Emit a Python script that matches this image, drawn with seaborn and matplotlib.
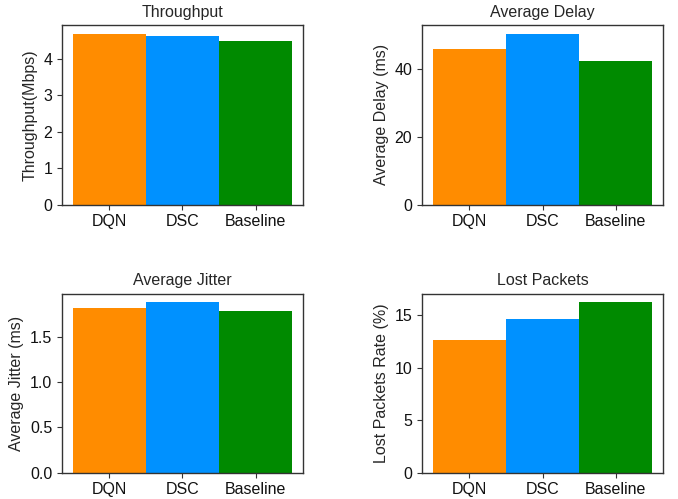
import matplotlib
matplotlib.use("Agg")
import matplotlib.pyplot as plt
import seaborn as sns
import pandas as pd

methods = ["DQN", "DSC", "Baseline"]
throughput = [4.70, 4.64, 4.50]
avg_delay = [46.1, 50.6, 42.5]
avg_jitter = [1.812, 1.878, 1.779]
lost_packets = [12.60, 14.59, 16.21]

titles = ["Throughput", "Average Delay", "Average Jitter", "Lost Packets"]
ylabels = ["Throughput(Mbps)", "Average Delay (ms)", "Average Jitter (ms)", "Lost Packets Rate (%)"]
yticks_list = [[0, 1, 2, 3, 4], [0, 20, 40], [0.0, 0.5, 1.0, 1.5], [0, 5, 10, 15]]
ytick_fmt = ["{:.0f}", "{:.0f}", "{:.1f}", "{:.0f}"]
colors = ["#FF8C00", "#0091FF", "#008A00"]

sns.set_style("ticks")
plt.rcParams["font.family"] = ["Liberation Sans", "DejaVu Sans"]
FS = 11.5

fig = plt.figure(figsize=(6.78, 4.99), dpi=100)
positions = [
    [0.0914, 0.5898, 0.3555, 0.3600],
    [0.6224, 0.5898, 0.3555, 0.3600],
    [0.0914, 0.0527, 0.3555, 0.3587],
    [0.6224, 0.0527, 0.3555, 0.3587],
]
series = [throughput, avg_delay, avg_jitter, lost_packets]

for pos, vals, title, ylab, yt, fmt in zip(positions, series, titles, ylabels, yticks_list, ytick_fmt):
    ax = fig.add_axes(pos)
    df = pd.DataFrame({"method": methods, "value": vals})
    sns.barplot(data=df, x="method", y="value", hue="method", palette=colors,
                width=1.0, dodge=False, legend=False, ax=ax, saturation=1,
                linewidth=0, edgecolor="none")
    ax.set_xlim(-0.65, 2.65)
    ax.set_ylim(0, max(vals) * 1.05)
    ax.set_yticks(yt)
    ax.set_yticklabels([fmt.format(v) for v in yt])
    ax.set_title(title, fontsize=FS)
    ax.set_ylabel(ylab, fontsize=FS)
    ax.set_xlabel("")
    ax.tick_params(labelsize=FS, length=3.5, width=0.8, color="#333333", labelcolor="#111111")
    for s in ax.spines.values():
        s.set_visible(True)
        s.set_color("#333333")
        s.set_linewidth(1.0)

fig.savefig("out.png", dpi=100)
